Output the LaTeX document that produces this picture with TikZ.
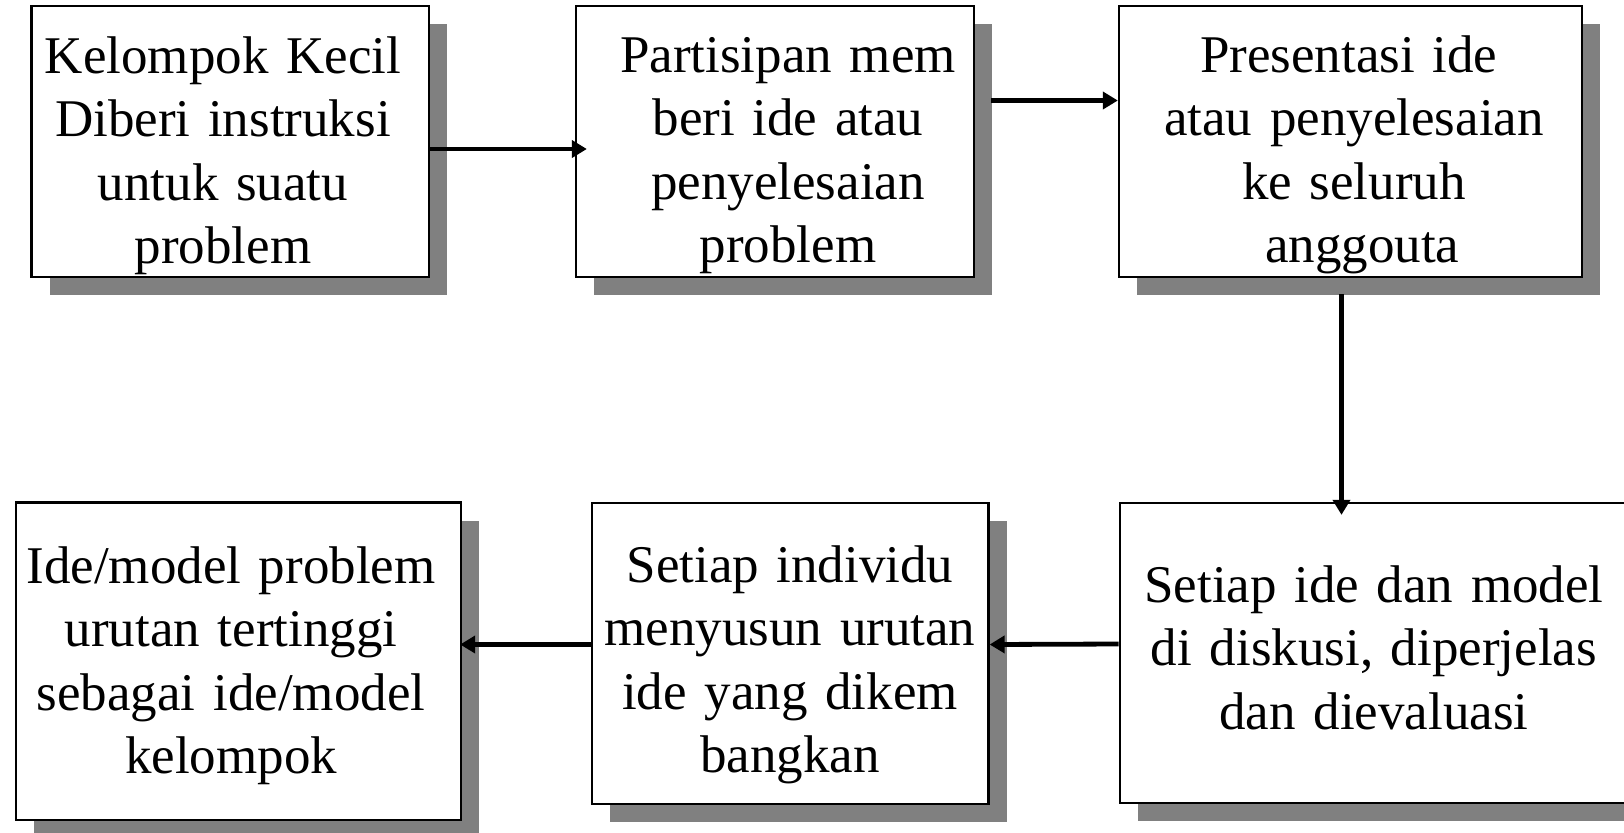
\documentclass[tikz,border=0pt]{standalone}
\usepackage{fontspec}
\setmainfont{Liberation Serif}
\usetikzlibrary{arrows.meta,shadows}
\definecolor{shadowgray}{HTML}{808080}
\tikzset{
  stepbox/.style={draw=black, line width=1.15pt, fill=white, inner sep=0pt,
    drop shadow={shadow xshift=9pt, shadow yshift=-9pt, fill=shadowgray, opacity=1}},
  steptext/.style={anchor=base, inner sep=0pt, text width=260pt, align=center,
    font=\fontsize{26.5}{31.75}\selectfont},
  flow/.style={line width=2.4pt, -{Triangle[length=7.5pt,width=8.5pt]}}
}
\begin{document}
\begin{tikzpicture}[x=0.5pt, y=-0.5pt]
\useasboundingbox (0,0) rectangle (1624,832);

% boxes (positions in pixel units)
\node[stepbox, minimum width=198.75pt, minimum height=135.5pt] (b1) at (230.25,141.5) {};
\node[stepbox, minimum width=199pt,    minimum height=135.5pt] (b2) at (775,141.5) {};
\node[stepbox, minimum width=231.5pt,  minimum height=135.5pt] (b3) at (1350.5,141.5) {};
\node[stepbox, minimum width=256pt,    minimum height=150pt]   (b4) at (1375.8,653) {};
\node[stepbox, minimum width=198.25pt, minimum height=150.5pt] (b5) at (790.25,653.5) {};
\node[stepbox, minimum width=222.5pt,  minimum height=158.75pt] (b6) at (238.5,661.25) {};

% box texts
\node[steptext] (t1) at (223,73)  {Kelompok Kecil\\Diberi instruksi\\untuk suatu\\problem};
\node[steptext] (t2) at (788,72)  {Partisipan mem\\beri ide atau\\penyelesaian\\problem};
\node[steptext] (t3) at (1354,72) {\hspace*{-5.2pt}Presentasi ide\\atau penyelesaian\\ke seluruh\\\hspace*{8.3pt}anggouta};
\node[steptext] (t4) at (1374,602) {Setiap ide dan model\\di diskusi, diperjelas\\dan dievaluasi};
\node[steptext] (t5) at (790,582) {Setiap individu\\menyusun urutan\\ide yang dikem\\bangkan};
\node[steptext] (t6) at (231,583) {Ide/model problem\\urutan tertinggi\\sebagai ide/model\\kelompok};

% connectors
\draw[flow, shorten >=-6pt] ([yshift=-3.75pt]b1.east) -- ([yshift=-3.75pt]b2.west);
\draw[flow] ([shift={(8pt,20.5pt)}]b2.east) -- ([yshift=20.5pt]b3.west);
\coordinate (c3) at ([shift={(-4.5pt,-8pt)}]b3.south);
\draw[flow, shorten >=-6.5pt] (c3) -- (c3 |- b4.north);
\draw[flow] ([yshift=4.5pt]b4.west) -- ([yshift=4.5pt]b5.east);
\coordinate (c5) at ([yshift=4.5pt]b5.west);
\draw[flow, shorten >=-1pt] (c5) -- (c5 -| b6.east);
\end{tikzpicture}
\end{document}
